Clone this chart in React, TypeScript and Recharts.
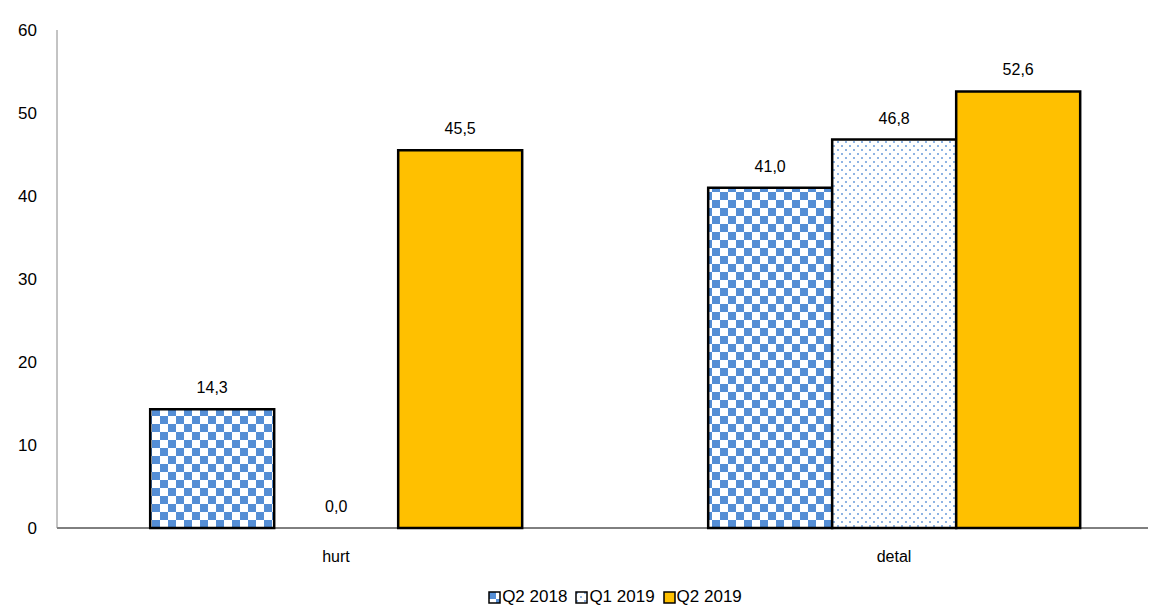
import React from 'react';
import { BarChart, Bar, XAxis, YAxis, LabelList, Legend, Cell } from 'recharts';

const categories = ['hurt', 'detal'];
const q2_2018 = [14.3, 41.0];
const q1_2019 = [0.0, 46.8];
const q2_2019 = [45.5, 52.6];
const yTicks = [0, 10, 20, 30, 40, 50, 60];

const data = categories.map((c, i) => ({ name: c, a: q2_2018[i], b: q1_2019[i], c: q2_2019[i] }));
const fmt = (v: any) => Number(v).toFixed(1).replace('.', ',');
const font = 'Arial, "Liberation Sans", sans-serif';

const legendItems = [
  { label: 'Q2 2018', fill: 'url(#checker)' },
  { label: 'Q1 2019', fill: 'url(#dots)' },
  { label: 'Q2 2019', fill: '#FFC000' },
];

const renderLegend = () => (
  <div style={{ display: 'flex', justifyContent: 'center', gap: 8, fontFamily: font, fontSize: 17, color: '#000', marginLeft: 40 }}>
    {legendItems.map((it) => (
      <span key={it.label} style={{ display: 'flex', alignItems: 'center' }}>
        <svg width={13} height={13} style={{ marginRight: 1 }}>
          <rect x={1} y={1} width={11} height={11} fill={it.fill} stroke="#000" strokeWidth={1.5} />
        </svg>
        {it.label}
      </span>
    ))}
  </div>
);

const ValueLabel = (props: any) => {
  const { x, y, width, value } = props;
  return (
    <text x={x + width / 2} y={y - 16} textAnchor="middle" fill="#000" fontSize={16} fontFamily={font}>
      {fmt(value)}
    </text>
  );
};

export default function App() {
  return (
    <BarChart width={1148} height={605} data={data} margin={{ top: 22, right: -17, bottom: 0, left: 9 }}
      barCategoryGap="16.7%" barGap={0} style={{ overflow: 'hidden' }}>
      <defs>
        <pattern id="checker" width={16} height={16} patternUnits="userSpaceOnUse">
          <rect width={16} height={16} fill="#fff" />
          <rect width={8} height={8} fill="#558ED5" />
          <rect x={8} y={8} width={8} height={8} fill="#558ED5" />
        </pattern>
        <pattern id="dots" width={8} height={8} patternUnits="userSpaceOnUse">
          <rect width={8} height={8} fill="#fff" />
          <rect x={1} y={1} width={2} height={2} fill="#8FB4E3" />
          <rect x={5} y={5} width={2} height={2} fill="#8FB4E3" />
        </pattern>
      </defs>
      <XAxis dataKey="name" tickLine={false} axisLine={{ stroke: '#000' }} height={59}
        tick={{ fill: '#000', fontSize: 16, fontFamily: font }} tickMargin={17} />
      <YAxis domain={[0, 60]} ticks={yTicks} width={40} tickLine={false} axisLine={{ stroke: '#888' }}
        tick={{ fill: '#000', fontSize: 17, fontFamily: font }} tickMargin={14} />
      <Legend content={renderLegend} verticalAlign="bottom" height={26} />
      <Bar dataKey="a" fill="url(#checker)" stroke="#000" strokeWidth={2.5} isAnimationActive={false}>
        <LabelList dataKey="a" content={ValueLabel} />
      </Bar>
      <Bar dataKey="b" fill="url(#dots)" stroke="#000" strokeWidth={2.5} minPointSize={0.5} isAnimationActive={false}>
        {data.map((d, i) => (
          <Cell key={i} stroke={d.b === 0 ? 'none' : '#000'} fill={d.b === 0 ? 'none' : 'url(#dots)'} />
        ))}
        <LabelList dataKey="b" content={ValueLabel} />
      </Bar>
      <Bar dataKey="c" fill="#FFC000" stroke="#000" strokeWidth={2.5} isAnimationActive={false}>
        <LabelList dataKey="c" content={ValueLabel} />
      </Bar>
    </BarChart>
  );
}
